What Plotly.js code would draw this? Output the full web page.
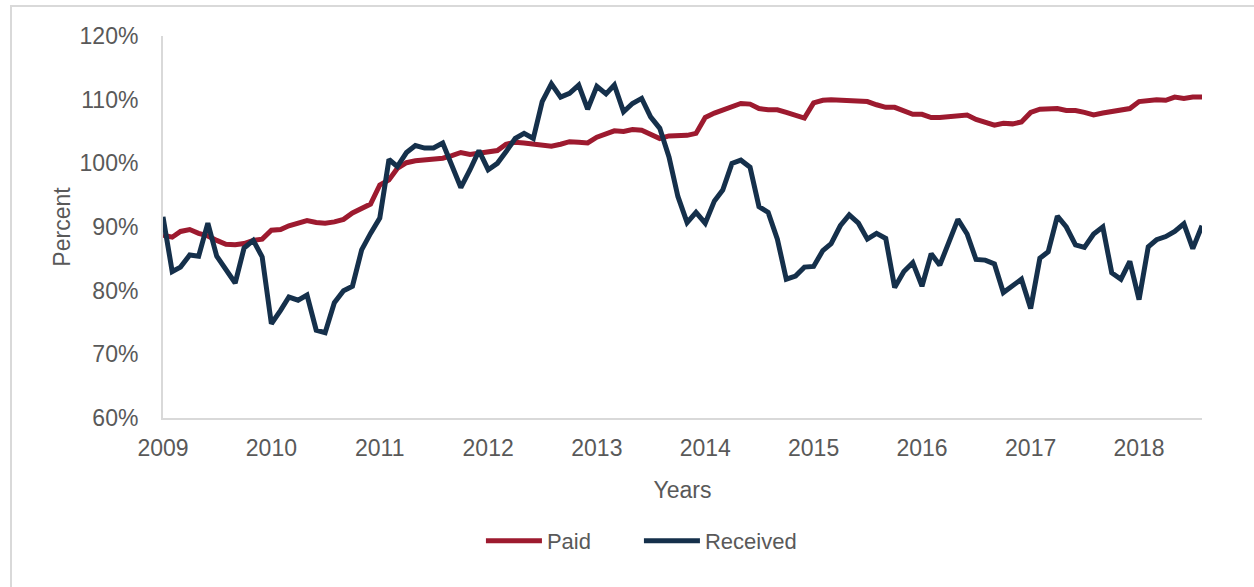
<!DOCTYPE html>
<html>
<head>
<meta charset="utf-8">
<script src="https://cdn.plot.ly/plotly-3.0.1.min.js"></script>
<style>
  html, body { margin: 0; padding: 0; background: #fff; }
  #chart { width: 1254px; height: 587px; }
</style>
</head>
<body>
<div id="chart"></div>
<script>
// monthly index, Jan 2009 - Aug 2018 (percent)
const startYear = 2009;
const tickYears = [2009, 2010, 2011, 2012, 2013, 2014, 2015, 2016, 2017, 2018];

const paid = [
  88.7, 88.4, 89.3, 89.6, 89.0, 88.6, 87.9, 87.3, 87.2, 87.4, 87.9, 88.1,
  89.5, 89.6, 90.2, 90.7, 91.0, 90.7, 90.6, 90.8, 91.2, 92.2, 92.9, 93.6,
  96.6, 97.4, 99.2, 100.1, 100.4, 100.5, 100.6, 100.8, 101.2, 101.7, 101.4, 101.6,
  101.7, 102.0, 103.0, 103.3, 103.2, 103.0, 102.8, 102.7, 103.0, 103.4, 103.3, 103.2,
  104.1, 104.6, 105.1, 105.0, 105.3, 105.2, 104.6, 103.9, 104.3, 104.4, 104.4, 104.7,
  107.2, 107.9, 108.4, 108.9, 109.4, 109.3, 108.6, 108.4, 108.4, 108.0, 107.6, 107.1,
  109.5, 109.9, 110.0, 109.9, 109.9, 109.9, 109.7, 109.2, 108.8, 108.8, 108.3, 107.7,
  107.7, 107.2, 107.2, 107.3, 107.4, 107.6, 106.9, 106.5, 106.0, 106.3, 106.2, 106.5,
  108.0, 108.5, 108.5, 108.6, 108.3, 108.3, 108.0, 107.6, 107.9, 108.1, 108.4, 108.6,
  109.7, 109.9, 110.0, 109.9, 110.4, 110.2, 110.4, 110.4
];

const received = [
  91.6, 83.0, 83.7, 85.6, 85.4, 90.6, 85.4, 83.2, 81.2, 86.7, 87.9, 85.3,
  74.8, 76.9, 79.0, 78.5, 79.3, 73.8, 73.4, 78.1, 80.0, 80.7, 86.4, 89.0,
  91.4, 100.6, 99.5, 101.7, 102.8, 102.4, 102.4, 103.2, 99.5, 96.2, 99.0, 102.0,
  99.0, 100.0, 101.8, 103.9, 104.7, 103.9, 109.7, 112.5, 110.4, 111.0, 112.3, 108.5,
  112.1, 110.9, 112.3, 108.1, 109.4, 110.2, 107.3, 105.5, 101.0, 94.8, 90.7, 92.3,
  90.6, 94.1, 95.8, 100.0, 100.5, 99.4, 93.2, 92.3, 88.1, 81.8, 82.3, 83.7,
  83.8, 86.3, 87.4, 90.2, 91.9, 90.6, 88.1, 89.0, 88.2, 80.5, 83.0, 84.4,
  80.7, 85.8, 84.0, 87.7, 91.2, 88.9, 84.9, 84.8, 84.2, 79.7, 80.7, 81.8,
  77.2, 85.1, 86.1, 91.7, 90.0, 87.2, 86.8, 88.9, 90.0, 82.8, 81.8, 84.6,
  78.6, 86.9, 88.0, 88.5, 89.3, 90.5, 86.6, 90.2
];

// month dates for the x axis
let months = [];
for (let i = 0; i < paid.length; i++) {
  let y = startYear + Math.floor(i / 12);
  let m = (i % 12) + 1;
  months.push(y + '-' + (m < 10 ? '0' + m : m) + '-01');
}

const textColor = '#595959';
const axisColor = '#d9d9d9';
const font = 'Liberation Sans, Arial, sans-serif';

let data = [
  {
    x: months, y: paid, name: 'Paid', type: 'scatter', mode: 'lines',
    line: {color: '#9d1a2f', width: 5}
  },
  {
    x: months, y: received, name: 'Received', type: 'scatter', mode: 'lines',
    line: {color: '#15304b', width: 5}
  }
];

let layout = {
  width: 1254,
  height: 587,
  margin: {l: 163, r: 52, t: 36, b: 169},
  paper_bgcolor: '#fff',
  plot_bgcolor: '#fff',
  font: {family: font, size: 23, color: textColor},
  showlegend: true,
  legend: {
    orientation: 'h', x: 0.306, xanchor: 'left', y: -0.322, yanchor: 'middle',
    font: {size: 22, color: textColor}, itemwidth: 56, entrywidth: 87,
    itemclick: false
  },
  xaxis: {
    type: 'date',
    range: [months[0], months[months.length - 1]],
    tickvals: tickYears.map(y => y + '-01-01'),
    ticktext: tickYears.map(String),
    showgrid: false, zeroline: false, ticks: '',
    showline: true, linecolor: axisColor, linewidth: 2,
    ticklabelstandoff: 8,
    title: {text: 'Years', font: {size: 23, color: textColor}, standoff: 22}
  },
  yaxis: {
    range: [60, 120], dtick: 10, ticksuffix: '%',
    showgrid: false, zeroline: false, ticks: '',
    showline: true, linecolor: axisColor, linewidth: 2,
    ticklabelstandoff: 18,
    title: {text: 'Percent', font: {size: 23, color: textColor}, standoff: 3}
  },
  shapes: [
    {
      type: 'rect', xref: 'paper', yref: 'paper',
      x0: -0.1463, x1: 1.2, y0: -0.7, y1: 1.0785,
      line: {color: axisColor, width: 2}, layer: 'below'
    }
  ]
};

Plotly.newPlot('chart', data, layout, {displayModeBar: false, staticPlot: true});
</script>
</body>
</html>
